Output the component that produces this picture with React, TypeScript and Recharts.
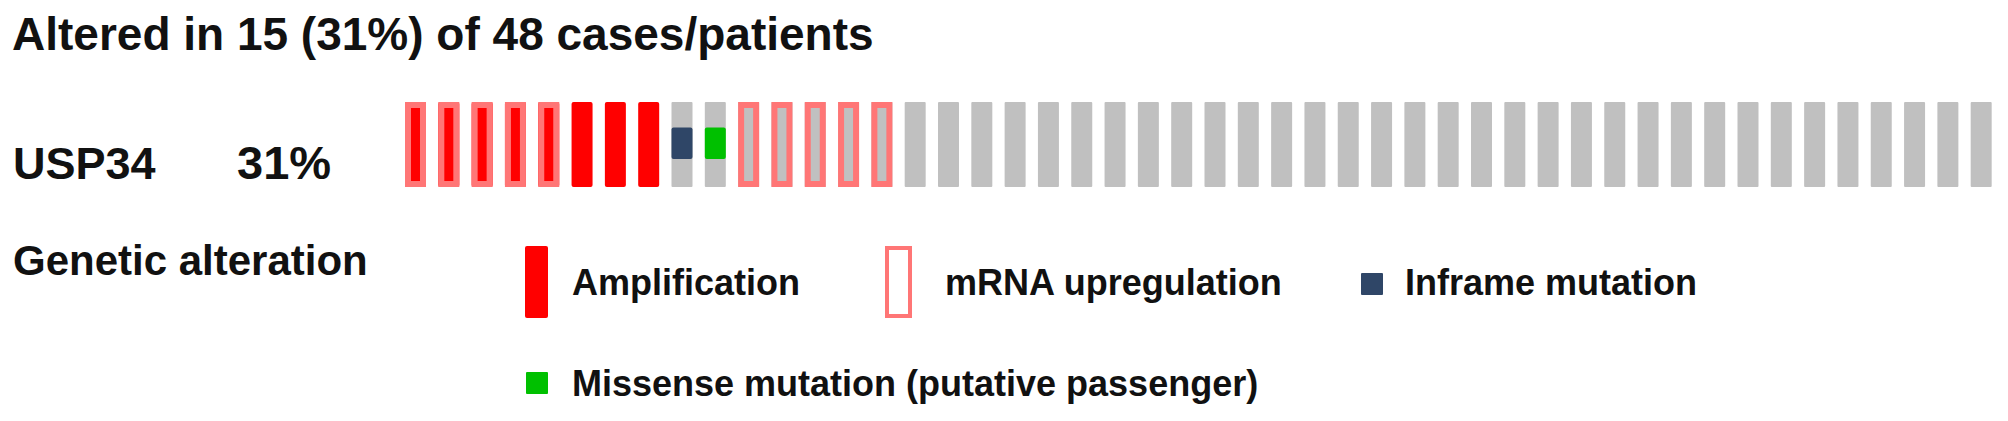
import React from 'react';
import { BarChart, Bar, XAxis, YAxis } from 'recharts';

const GENE = 'USP34';
const GENE_PCT = '31%';
const TITLE = 'Altered in 15 (31%) of 48 cases/patients';

// one entry per case (48), sorted as in the picture
const CNA = [
    'AMP', 'AMP', 'AMP', 'AMP', 'AMP', 'AMP', 'AMP', 'AMP', '', '', '', '', '', '', '', '',
    '', '', '', '', '', '', '', '', '', '', '', '', '', '', '', '',
    '', '', '', '', '', '', '', '', '', '', '', '', '', '', '', '',
];
const MRNA = [
    'UP', 'UP', 'UP', 'UP', 'UP', '', '', '', '', '', 'UP', 'UP', 'UP', 'UP', 'UP', '',
    '', '', '', '', '', '', '', '', '', '', '', '', '', '', '', '',
    '', '', '', '', '', '', '', '', '', '', '', '', '', '', '', '',
];
const MUTATION = [
    '', '', '', '', '', '', '', '', 'INFRAME', 'MISSENSE', '', '', '', '', '', '',
    '', '', '', '', '', '', '', '', '', '', '', '', '', '', '', '',
    '', '', '', '', '', '', '', '', '', '', '', '', '', '', '', '',
];

const LEGEND_ROW1 = [
    { kind: 'AMP', label: 'Amplification' },
    { kind: 'UP', label: 'mRNA upregulation' },
    { kind: 'INFRAME', label: 'Inframe mutation' },
];
const LEGEND_ROW2 = [
    { kind: 'MISSENSE', label: 'Missense mutation (putative passenger)' },
];

/* ── Colours ─────────────────────────────────────────────────────────────── */
const RED = '#ff0000';
const PINK = '#ff7676';
const GRAY = '#c0c0c0';
const INFRAME = '#2f4667';
const MISSENSE = '#00c000';
const FONT = '"Liberation Sans", Arial, Helvetica, sans-serif';

const data = CNA.map((cna, i) => ({
    id: `case ${i + 1}`,
    cna,
    mrna: MRNA[i],
    mut: MUTATION[i],
    value: 1,
}));

/* ── One oncoprint cell ──────────────────────────────────────────────────── */
const CaseCell = (props: any) => {
    const { x, y, width, height, payload } = props;
    const amp = payload.cna === 'AMP';
    const mutColor = payload.mut === 'INFRAME' ? INFRAME : payload.mut === 'MISSENSE' ? MISSENSE : null;
    return (
        <g>
            <rect x={x} y={y} width={width} height={height} fill={amp ? RED : GRAY} rx={amp ? 2 : 1} />
            {payload.mrna === 'UP' && (
                <rect x={x + 3} y={y + 3} width={width - 6} height={height - 6}
                      fill="none" stroke={PINK} strokeWidth={6} />
            )}
            {mutColor && (
                <rect x={x} y={y + height * 0.3} width={width} height={height * 0.37}
                      fill={mutColor} rx={2} />
            )}
        </g>
    );
};

/* ── Legend swatch ───────────────────────────────────────────────────────── */
const Swatch = ({ kind, x, y }: { kind: string; x: number; y: number }) => {
    if (kind === 'AMP') return <rect x={x} y={y} width={23} height={72} fill={RED} rx={2} />;
    if (kind === 'UP') return <rect x={x + 2} y={y + 2} width={23} height={68} fill="#fff" stroke={PINK} strokeWidth={4} />;
    const c = kind === 'INFRAME' ? INFRAME : MISSENSE;
    return <rect x={x} y={y + 27} width={22} height={22} fill={c} rx={1} />;
};

const ROW1_X = [525, 885, 1361];
const ROW1_TEXT_X = [572, 945, 1405];

export default function App() {
    const txt = { fontFamily: FONT, fontWeight: 700, fill: '#111' } as const;
    return (
        <div style={{ position: 'relative', width: 2008, height: 421, background: '#fff' }}>
            <style>{'body{margin:0}'}</style>
            <BarChart
                width={2008}
                height={421}
                data={data}
                margin={{ top: 102, right: 10, left: 399, bottom: 234 }}
            >
                <XAxis dataKey="id" hide />
                <YAxis domain={[0, 1]} hide />
                <Bar dataKey="value" barSize={21} shape={<CaseCell />} isAnimationActive={false} />
            </BarChart>

            <svg width={2008} height={421} style={{ position: 'absolute', left: 0, top: 0, pointerEvents: 'none' }}>
                <text x={12} y={50} fontSize={46} {...txt}>{TITLE}</text>
                <text x={13} y={179} fontSize={45} {...txt}>{GENE}</text>
                <text x={237} y={179} fontSize={47} {...txt}>{GENE_PCT}</text>
                <text x={13} y={275} fontSize={42} {...txt}>Genetic alteration</text>

                {LEGEND_ROW1.map((l, i) => (
                    <g key={l.kind}>
                        <Swatch kind={l.kind} x={ROW1_X[i]} y={246} />
                        <text x={ROW1_TEXT_X[i]} y={295} fontSize={36} {...txt}>{l.label}</text>
                    </g>
                ))}
                {LEGEND_ROW2.map((l) => (
                    <g key={l.kind}>
                        <Swatch kind={l.kind} x={526} y={345} />
                        <text x={572} y={396} fontSize={36} {...txt}>{l.label}</text>
                    </g>
                ))}
            </svg>
        </div>
    );
}
